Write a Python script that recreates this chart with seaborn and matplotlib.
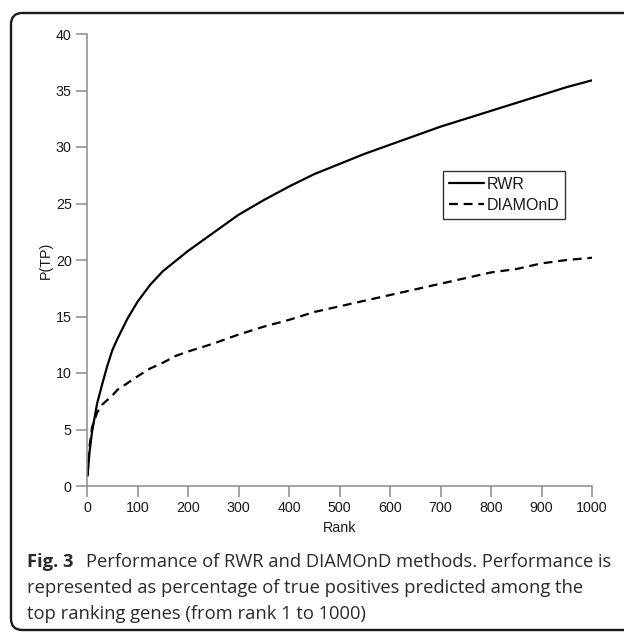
import numpy as np
import pandas as pd
import matplotlib
matplotlib.use("Agg")
import matplotlib.pyplot as plt
import seaborn as sns
from matplotlib.patches import FancyBboxPatch

# values
rank = [1, 5, 10, 20, 30, 40, 50, 60, 80, 100, 125, 150, 175, 200, 250,
        300, 350, 400, 450, 500, 550, 600, 650, 700, 750, 800, 850, 900, 950, 1000]
rwr = [0.9, 3.0, 4.8, 7.3, 9.0, 10.6, 12.0, 13.0, 14.8, 16.3, 17.8, 19.0, 19.9, 20.8, 22.4,
       24.0, 25.3, 26.5, 27.6, 28.5, 29.4, 30.2, 31.0, 31.8, 32.5, 33.2, 33.9, 34.6, 35.3, 35.9]
diamond = [0.9, 3.5, 5.2, 6.5, 7.2, 7.6, 8.0, 8.5, 9.1, 9.7, 10.4, 10.9, 11.5, 11.9, 12.6,
           13.4, 14.1, 14.7, 15.4, 15.9, 16.4, 16.9, 17.4, 17.9, 18.4, 18.9, 19.2, 19.7, 20.0, 20.2]
methods = ["RWR", "DIAMOnD"]
x_ticks = [0, 100, 200, 300, 400, 500, 600, 700, 800, 900, 1000]
y_ticks = [0, 5, 10, 15, 20, 25, 30, 35, 40]
caption_lines = [
    "Performance of RWR and DIAMOnD methods. Performance is",
    "represented as percentage of true positives predicted among the",
    "top ranking genes (from rank 1 to 1000)",
]

df = pd.DataFrame({
    "Rank": rank * 2,
    "P(TP)": rwr + diamond,
    "method": ["RWR"] * len(rank) + ["DIAMOnD"] * len(rank),
})

sns.set_style("white")
plt.rcParams["font.family"] = ["Liberation Sans", "DejaVu Sans"]

W, H = 624, 632
fig = plt.figure(figsize=(W / 100, H / 100), dpi=100)
ax = fig.add_axes([87 / W, 1 - 486 / H, (592 - 87) / W, (486 - 34) / H])

sns.lineplot(data=df, x="Rank", y="P(TP)", hue="method", style="method",
             hue_order=methods, style_order=methods,
             palette={"RWR": "black", "DIAMOnD": "black"},
             dashes={"RWR": "", "DIAMOnD": (4, 2.6)},
             linewidth=1.6, ax=ax)

ax.set_xlim(0, 1000)
ax.set_ylim(0, 40)
ax.set_xticks(x_ticks)
ax.set_yticks(y_ticks)
sns.despine(ax=ax)
for side in ["left", "bottom"]:
    ax.spines[side].set_color("#8a8a8a")
    ax.spines[side].set_linewidth(1.1)
ax.tick_params(axis="both", direction="out", length=8, width=1.1, color="#8a8a8a",
               labelsize=10.3, labelcolor="#1a1a1a", pad=3,
               left=True, bottom=True)
ax.set_xlabel("Rank", fontsize=10.3, color="#1a1a1a", labelpad=4)
ax.set_ylabel("P(TP)", fontsize=10.3, color="#1a1a1a", labelpad=2)

leg = ax.legend(loc="upper left", bbox_to_anchor=(443 / W, 1 - 171 / H),
                bbox_transform=fig.transFigure, borderaxespad=0,
                fontsize=11.5, frameon=True, fancybox=False, handlelength=2.2,
                handletextpad=0.2, borderpad=0.35, labelspacing=0.4)
leg.get_frame().set_edgecolor("black")
leg.get_frame().set_linewidth(1.0)
for t in leg.get_texts():
    t.set_color("#1a1a1a")

# caption
cap_font = ["Open Sans", "DejaVu Sans"]
cap_size = 13.25
fig.text(27 / W, 1 - 567 / H, "Fig. 3", family=cap_font, fontweight="bold",
         fontsize=cap_size, color="#2a2a2a", va="baseline")
fig.text(86 / W, 1 - 567 / H, caption_lines[0], family=cap_font,
         fontsize=cap_size, color="#2a2a2a", va="baseline")
fig.text(27 / W, 1 - 593 / H, caption_lines[1], family=cap_font,
         fontsize=cap_size, color="#2a2a2a", va="baseline")
fig.text(27 / W, 1 - 619 / H, caption_lines[2], family=cap_font,
         fontsize=cap_size, color="#2a2a2a", va="baseline")

# rounded frame around the figure (right side runs off the image)
frame = FancyBboxPatch((11 / W, 2 / H), 700 / W, (630 - 11 - 2) / H,
                       boxstyle="round,pad=0,rounding_size=0.018",
                       transform=fig.transFigure, fill=False,
                       edgecolor="#1a1a1a", linewidth=1.7, clip_on=False)
fig.patches.append(frame)

fig.savefig("out.png", dpi=100)
